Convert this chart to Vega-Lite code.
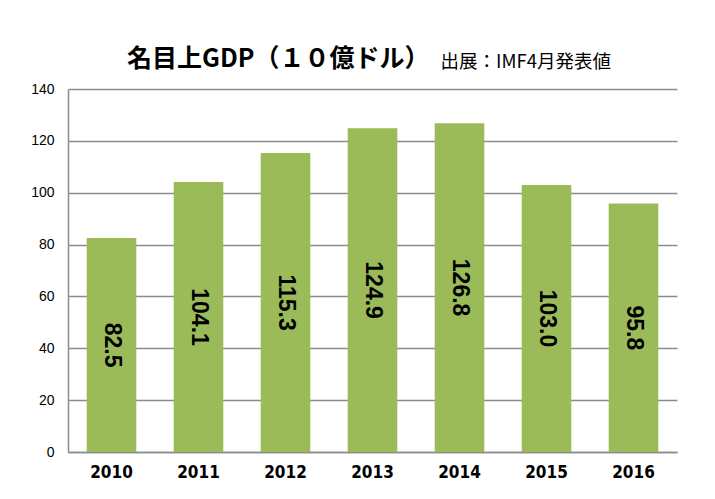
{
  "$schema": "https://vega.github.io/schema/vega-lite/v6.json",
  "width": 609,
  "height": 363,
  "autosize": {"type": "none"},
  "padding": {"left": 68, "top": 89, "right": 38, "bottom": 47},
  "background": "white",
  "title": {
    "text": "名目上GDP（１０億ドル）",
    "anchor": "start",
    "frame": "group",
    "dx": 59,
    "dy": 40,
    "offset": 20,
    "font": "Noto Sans CJK JP",
    "fontSize": 25,
    "fontWeight": "bold",
    "color": "black"
  },
  "data": {
    "values": [
      {"year": "2010", "gdp": 82.5},
      {"year": "2011", "gdp": 104.1},
      {"year": "2012", "gdp": 115.3},
      {"year": "2013", "gdp": 124.9},
      {"year": "2014", "gdp": 126.8},
      {"year": "2015", "gdp": 103.0},
      {"year": "2016", "gdp": 95.8}
    ]
  },
  "encoding": {
    "x": {
      "field": "year",
      "type": "nominal",
      "scale": {"paddingInner": 0.43, "paddingOuter": 0.215},
      "axis": {
        "title": null,
        "labelAngle": 0,
        "labelFont": "DejaVu Sans Condensed, Liberation Sans, sans-serif",
        "labelFontSize": 17,
        "labelFontWeight": "bold",
        "labelColor": "black",
        "labelPadding": 12,
        "ticks": false,
        "domainColor": "#8c8c8c",
        "domainWidth": 1.5
      }
    }
  },
  "layer": [
    {
      "mark": {"type": "bar", "color": "#9BBB59"},
      "encoding": {
        "y": {
          "field": "gdp",
          "type": "quantitative",
          "scale": {"domain": [0, 140], "nice": false},
          "axis": {
            "values": [0, 20, 40, 60, 80, 100, 120, 140],
            "title": "出展：IMF4月発表値",
            "titleAngle": 0,
            "titleAlign": "left",
            "titleBaseline": "alphabetic",
            "titleX": 372,
            "titleY": -22,
            "titleFont": "Noto Sans CJK JP",
            "titleFontSize": 18.5,
            "titleFontWeight": "normal",
            "titleColor": "black",
            "labelFont": "Liberation Sans",
            "labelFontSize": 14,
            "labelColor": "black",
            "labelPadding": 14,
            "ticks": false,
            "grid": true,
            "gridColor": "#8c8c8c",
            "gridWidth": 1.5,
            "domainColor": "#8c8c8c",
            "domainWidth": 1.5
          }
        }
      }
    },
    {
      "mark": {
        "type": "text",
        "angle": 90,
        "align": "center",
        "baseline": "middle",
        "font": "Liberation Sans",
        "fontSize": 23,
        "fontWeight": "bold",
        "color": "black"
      },
      "encoding": {
        "y": {
          "field": "gdp",
          "type": "quantitative",
          "scale": {"domain": [0, 280], "nice": false},
          "axis": null
        },
        "text": {"field": "gdp", "type": "quantitative", "format": ".1f"}
      }
    }
  ],
  "resolve": {"scale": {"y": "independent"}},
  "config": {
    "view": {"stroke": null}
  }
}
